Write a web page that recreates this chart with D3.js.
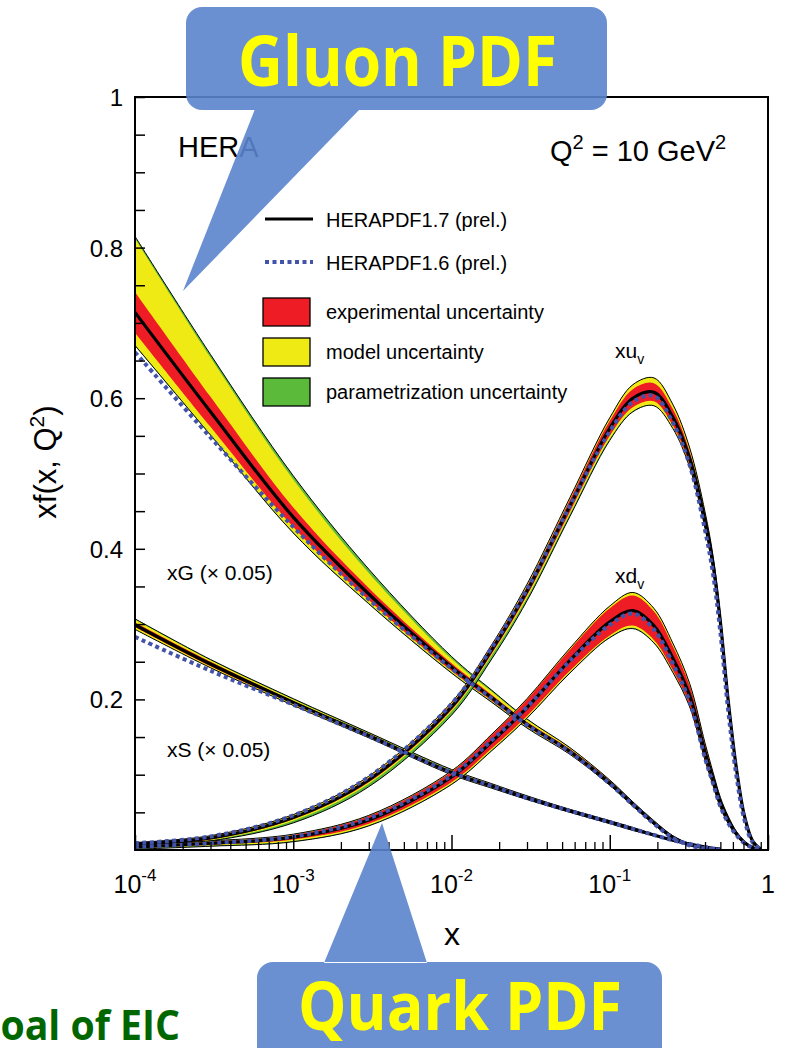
<!DOCTYPE html>
<html>
<head>
<meta charset="utf-8">
<script src="https://cdn.jsdelivr.net/npm/d3@7"></script>
<style>
  html, body { margin: 0; padding: 0; background: #fff; }
  svg { display: block; }
  text { font-family: "Liberation Sans", Arial, Helvetica, sans-serif; }
</style>
</head>
<body>
<svg id="chart" width="787" height="1048"></svg>
<script>
// Momentum fractions at which the parton distributions are tabulated
const xGrid = [0.0001, 0.0003, 0.001, 0.003, 0.01, 0.018, 0.03, 0.056, 0.1, 0.14, 0.19, 0.25, 0.32, 0.4, 0.45, 0.5, 0.56, 0.63, 0.71, 0.8, 0.9];

// xG (x 0.05): HERAPDF1.7 central, HERAPDF1.6, and uncertainty half-widths
const gCen   = [0.714, 0.582, 0.442, 0.340, 0.243, 0.202, 0.167, 0.131, 0.089, 0.061, 0.036, 0.017, 0.007, 0.003, 0.002, 0.001, null, null, null, null, null];
const gOld   = [0.661, 0.548, 0.429, 0.333, 0.241, 0.201, 0.166, 0.130, 0.088, 0.060, 0.035, 0.016, 0.006, 0.002, 0.001, 0.000, null, null, null, null, null];
const gExp   = [0.027, 0.020, 0.013, 0.008, 0.005, 0.004, 0.003, 0.003, 0.003, 0.002, 0.002, 0.001, 0.001, 0.001, 0.000, 0.000, null, null, null, null, null];
const gModUp = [0.098, 0.072, 0.050, 0.028, 0.011, 0.008, 0.006, 0.005, 0.004, 0.003, 0.003, 0.002, 0.001, 0.001, 0.001, 0.000, null, null, null, null, null];
const gModDn = [0.043, 0.030, 0.020, 0.012, 0.007, 0.005, 0.004, 0.004, 0.003, 0.003, 0.002, 0.002, 0.001, 0.001, 0.001, 0.000, null, null, null, null, null];
const gParUp = [0.101, 0.076, 0.055, 0.033, 0.014, 0.010, 0.007, 0.005, 0.004, 0.003, 0.003, 0.002, 0.001, 0.001, 0.001, 0.000, null, null, null, null, null];
const gParDn = [0.044, 0.031, 0.021, 0.013, 0.008, 0.006, 0.005, 0.004, 0.003, 0.003, 0.002, 0.002, 0.001, 0.001, 0.001, 0.000, null, null, null, null, null];

// xS (x 0.05)
const sCen   = [0.299, 0.247, 0.196, 0.152, 0.103, 0.085, 0.069, 0.052, 0.037, 0.028, 0.020, 0.013, 0.008, 0.004, 0.002, 0.001, null, null, null, null, null];
const sOld   = [0.283, 0.238, 0.193, 0.151, 0.103, 0.085, 0.069, 0.052, 0.037, 0.028, 0.020, 0.013, 0.008, 0.004, 0.002, 0.001, null, null, null, null, null];
const sExp   = [0.003, 0.003, 0.002, 0.002, 0.002, 0.002, 0.002, 0.001, 0.001, 0.001, 0.001, 0.001, 0.001, 0.001, 0.000, 0.000, null, null, null, null, null];
const sModUp = [0.007, 0.005, 0.004, 0.003, 0.003, 0.003, 0.002, 0.002, 0.002, 0.002, 0.001, 0.001, 0.001, 0.001, 0.000, 0.000, null, null, null, null, null];
const sModDn = [0.006, 0.005, 0.004, 0.003, 0.003, 0.003, 0.002, 0.002, 0.002, 0.002, 0.001, 0.001, 0.001, 0.001, 0.000, 0.000, null, null, null, null, null];
const sParUp = [0.008, 0.006, 0.005, 0.004, 0.004, 0.003, 0.003, 0.002, 0.002, 0.002, 0.001, 0.001, 0.001, 0.001, 0.000, 0.000, null, null, null, null, null];
const sParDn = [0.006, 0.005, 0.004, 0.003, 0.003, 0.003, 0.002, 0.002, 0.002, 0.002, 0.001, 0.001, 0.001, 0.001, 0.000, 0.000, null, null, null, null, null];

// xu_v
const uCen   = [0.008, 0.016, 0.043, 0.093, 0.190, 0.266, 0.344, 0.457, 0.560, 0.600, 0.608, 0.575, 0.520, 0.437, 0.379, 0.303, 0.199, 0.110, 0.045, 0.012, 0.001];
const uOld   = [0.009, 0.018, 0.046, 0.097, 0.194, 0.269, 0.346, 0.457, 0.556, 0.595, 0.603, 0.568, 0.511, 0.425, 0.366, 0.289, 0.186, 0.100, 0.040, 0.010, 0.001];
const uExp   = [0.001, 0.002, 0.002, 0.003, 0.004, 0.005, 0.006, 0.008, 0.010, 0.012, 0.012, 0.011, 0.009, 0.008, 0.007, 0.006, 0.004, 0.003, 0.002, 0.001, 0.000];
const uModUp = [0.002, 0.003, 0.004, 0.005, 0.006, 0.007, 0.009, 0.011, 0.014, 0.018, 0.019, 0.017, 0.014, 0.012, 0.011, 0.009, 0.007, 0.005, 0.003, 0.002, 0.000];
const uModDn = [0.002, 0.003, 0.004, 0.005, 0.006, 0.007, 0.009, 0.011, 0.014, 0.017, 0.018, 0.015, 0.012, 0.010, 0.009, 0.008, 0.006, 0.004, 0.003, 0.002, 0.000];
const uParUp = [0.002, 0.003, 0.004, 0.005, 0.006, 0.007, 0.009, 0.011, 0.014, 0.018, 0.019, 0.017, 0.014, 0.012, 0.011, 0.009, 0.007, 0.005, 0.003, 0.002, 0.000];
const uParDn = [0.003, 0.004, 0.007, 0.009, 0.011, 0.012, 0.013, 0.014, 0.016, 0.018, 0.018, 0.015, 0.012, 0.010, 0.009, 0.008, 0.006, 0.004, 0.003, 0.002, 0.000];

// xd_v
const dCen   = [0.004, 0.009, 0.017, 0.040, 0.097, 0.144, 0.189, 0.252, 0.303, 0.318, 0.298, 0.255, 0.205, 0.130, 0.094, 0.063, 0.040, 0.022, 0.010, 0.003, 0.000];
const dOld   = [0.004, 0.009, 0.018, 0.042, 0.099, 0.146, 0.190, 0.251, 0.299, 0.314, 0.293, 0.248, 0.197, 0.122, 0.088, 0.058, 0.036, 0.020, 0.009, 0.003, 0.000];
const dExp   = [0.001, 0.002, 0.003, 0.005, 0.007, 0.009, 0.011, 0.014, 0.018, 0.020, 0.019, 0.016, 0.013, 0.009, 0.007, 0.005, 0.004, 0.002, 0.001, 0.001, 0.000];
const dModUp = [0.002, 0.003, 0.004, 0.006, 0.008, 0.010, 0.012, 0.016, 0.021, 0.024, 0.023, 0.020, 0.016, 0.012, 0.009, 0.007, 0.005, 0.003, 0.002, 0.001, 0.000];
const dModDn = [0.002, 0.003, 0.005, 0.007, 0.009, 0.011, 0.013, 0.016, 0.020, 0.023, 0.022, 0.018, 0.014, 0.010, 0.008, 0.006, 0.004, 0.003, 0.002, 0.001, 0.000];
const dParUp = [0.002, 0.003, 0.004, 0.006, 0.008, 0.010, 0.012, 0.016, 0.021, 0.024, 0.023, 0.020, 0.016, 0.012, 0.009, 0.007, 0.005, 0.003, 0.002, 0.001, 0.000];
const dParDn = [0.003, 0.004, 0.006, 0.008, 0.010, 0.012, 0.014, 0.017, 0.021, 0.024, 0.023, 0.019, 0.015, 0.011, 0.009, 0.007, 0.005, 0.003, 0.002, 0.001, 0.000];

// Axis tick labels
const yTickLabels = [0.2, 0.4, 0.6, 0.8, 1];
const xTickExponents = [-4, -3, -2, -1];

const colors = { exp: "#ee1c25", mod: "#efea14", par: "#5cba3a", old: "#4352ab" };

const svg = d3.select("#chart");
const plot = { left: 135, right: 768, top: 97, bottom: 850 };

const x = d3.scaleLog().domain([1e-4, 1]).range([plot.left, plot.right]);
const y = d3.scaleLinear().domain([0, 1]).range([plot.bottom, plot.top]);

svg.append("defs").append("clipPath").attr("id", "plotArea")
  .append("rect").attr("x", plot.left).attr("y", plot.top)
  .attr("width", plot.right - plot.left).attr("height", plot.bottom - plot.top);

function series(cen, old, exp, modUp, modDn, parUp, parDn) {
  return xGrid.map((xv, i) => ({
    x: xv, c: cen[i], o: old[i], e: exp[i],
    mu: modUp[i], md: modDn[i], pu: parUp[i], pd: parDn[i]
  })).filter(d => d.c !== null);
}

const pdfs = [
  series(gCen, gOld, gExp, gModUp, gModDn, gParUp, gParDn),
  series(sCen, sOld, sExp, sModUp, sModDn, sParUp, sParDn),
  series(uCen, uOld, uExp, uModUp, uModDn, uParUp, uParDn),
  series(dCen, dOld, dExp, dModUp, dModDn, dParUp, dParDn)
];

const curve = d3.curveCatmullRom.alpha(0.5);
const band = (lo, hi) => d3.area().curve(curve).x(d => x(d.x)).y0(d => y(lo(d))).y1(d => y(hi(d)));
const line = acc => d3.line().curve(curve).x(d => x(d.x)).y(d => y(acc(d)));

const gBands = svg.append("g").attr("clip-path", "url(#plotArea)");
pdfs.forEach(p => {
  gBands.append("path").datum(p).attr("fill", colors.par)
    .attr("d", band(d => d.c - d.pd, d => d.c + d.pu));
  gBands.append("path").datum(p).attr("fill", colors.mod)
    .attr("d", band(d => d.c - d.md, d => d.c + d.mu));
  gBands.append("path").datum(p).attr("fill", colors.exp)
    .attr("d", band(d => d.c - d.e, d => d.c + d.e));
  // thin outline of the total band
  gBands.append("path").datum(p).attr("fill", "none").attr("stroke", "#000").attr("stroke-width", 1)
    .attr("d", line(d => d.c + d.pu));
  gBands.append("path").datum(p).attr("fill", "none").attr("stroke", "#000").attr("stroke-width", 1)
    .attr("d", line(d => d.c - d.pd));
});

const gLines = svg.append("g").attr("clip-path", "url(#plotArea)");
pdfs.forEach(p => {
  gLines.append("path").datum(p).attr("fill", "none").attr("stroke", "#000").attr("stroke-width", 3.2)
    .attr("d", line(d => d.c));
});
pdfs.forEach(p => {
  gLines.append("path").datum(p).attr("fill", "none").attr("stroke", colors.old)
    .attr("stroke-width", 4).attr("stroke-dasharray", "4,3.5")
    .attr("d", line(d => d.o));
});

// Frame
svg.append("rect").attr("x", plot.left).attr("y", plot.top)
  .attr("width", plot.right - plot.left).attr("height", plot.bottom - plot.top)
  .attr("fill", "none").attr("stroke", "#000").attr("stroke-width", 2);

// X axis ticks (inward)
const xMinor = [];
for (let e = -4; e < 0; e++) for (let m = 2; m <= 9; m++) xMinor.push(m * Math.pow(10, e));
const xMajor = xTickExponents.map(e => Math.pow(10, e)).concat([1]);
svg.append("g").attr("transform", `translate(0,${plot.bottom})`)
  .call(d3.axisBottom(x).tickValues(xMajor).tickSize(-15).tickFormat(""))
  .call(g => g.select(".domain").remove())
  .call(g => g.selectAll("line").attr("stroke-width", 1.5));
svg.append("g").attr("transform", `translate(0,${plot.bottom})`)
  .call(d3.axisBottom(x).tickValues(xMinor).tickSize(-8).tickFormat(""))
  .call(g => g.select(".domain").remove())
  .call(g => g.selectAll("line").attr("stroke-width", 1.3));

// Y axis ticks (inward)
const yTicks = d3.range(0.05, 1.0001, 0.05);
svg.append("g").attr("transform", `translate(${plot.left},0)`)
  .call(d3.axisLeft(y).tickValues(yTicks).tickSize(-10).tickFormat(""))
  .call(g => g.select(".domain").remove())
  .call(g => g.selectAll("line").attr("stroke-width", 1.5));

// Tick labels
const yl = svg.append("g").attr("font-size", 24).attr("text-anchor", "end");
yTickLabels.forEach(v => {
  yl.append("text").attr("x", plot.left - 12).attr("y", y(v) + 9).text(v === 1 ? "1" : d3.format(".1f")(v));
});
const xl = svg.append("g").attr("font-size", 25);
xTickExponents.forEach(e => {
  const t = xl.append("text").attr("x", x(Math.pow(10, e))).attr("y", plot.bottom + 43).attr("text-anchor", "middle");
  t.append("tspan").text("10");
  t.append("tspan").attr("font-size", 17).attr("dy", -12).text(String(e));
});
xl.append("text").attr("x", x(1)).attr("y", plot.bottom + 43).attr("text-anchor", "middle").text("1");

// Axis titles
svg.append("text").attr("x", 452).attr("y", 945).attr("font-size", 32).attr("text-anchor", "middle").text("x");
const yt = svg.append("text").attr("transform", "translate(56,462) rotate(-90)")
  .attr("font-size", 31).attr("text-anchor", "middle");
yt.append("tspan").text("xf(x, Q");
yt.append("tspan").attr("font-size", 21).attr("dy", -12).text("2");
yt.append("tspan").attr("dy", 12).text(")");

// Headline labels
svg.append("text").attr("x", 178).attr("y", 157).attr("font-size", 29).text("HERA");
const q = svg.append("text").attr("x", 550).attr("y", 161).attr("font-size", 29);
q.append("tspan").text("Q");
q.append("tspan").attr("font-size", 20).attr("dy", -12).text("2");
q.append("tspan").attr("dy", 12).text(" = 10 GeV");
q.append("tspan").attr("font-size", 20).attr("dy", -12).text("2");

// Legend
const lg = svg.append("g").attr("font-size", 20);
lg.append("line").attr("x1", 265).attr("x2", 313).attr("y1", 219).attr("y2", 219).attr("stroke", "#000").attr("stroke-width", 3.2);
lg.append("text").attr("x", 326).attr("y", 227).text("HERAPDF1.7 (prel.)");
lg.append("line").attr("x1", 265).attr("x2", 313).attr("y1", 262).attr("y2", 262).attr("stroke", colors.old)
  .attr("stroke-width", 4).attr("stroke-dasharray", "4,3.5");
lg.append("text").attr("x", 326).attr("y", 270).text("HERAPDF1.6 (prel.)");
[["experimental uncertainty", colors.exp, 298], ["model uncertainty", colors.mod, 338], ["parametrization uncertainty", colors.par, 378]]
  .forEach(([label, col, top]) => {
    lg.append("rect").attr("x", 263).attr("y", top).attr("width", 47).attr("height", 28)
      .attr("fill", col).attr("stroke", "#000").attr("stroke-width", 1.3);
    lg.append("text").attr("x", 326).attr("y", top + 21).text(label);
  });

// Curve labels
const cl = svg.append("g").attr("font-size", 21);
cl.append("text").attr("x", 167).attr("y", 580).text("xG (× 0.05)");
cl.append("text").attr("x", 167).attr("y", 757).text("xS (× 0.05)");
const u = cl.append("text").attr("x", 615).attr("y", 358);
u.append("tspan").text("xu");
u.append("tspan").attr("font-size", 14).attr("dy", 6).text("v");
const dv = cl.append("text").attr("x", 615).attr("y", 583);
dv.append("tspan").text("xd");
dv.append("tspan").attr("font-size", 14).attr("dy", 6).text("v");

// Callouts
const calloutFill = "#5a84cc";
function callout(box, r, tri) {
  const p = d3.path();
  p.moveTo(box.x0 + r, box.y0);
  p.lineTo(box.x1 - r, box.y0);
  p.arcTo(box.x1, box.y0, box.x1, box.y0 + r, r);
  p.lineTo(box.x1, box.y1 - r);
  p.arcTo(box.x1, box.y1, box.x1 - r, box.y1, r);
  p.lineTo(box.x0 + r, box.y1);
  p.arcTo(box.x0, box.y1, box.x0, box.y1 - r, r);
  p.lineTo(box.x0, box.y0 + r);
  p.arcTo(box.x0, box.y0, box.x0 + r, box.y0, r);
  p.closePath();
  const t = d3.path();
  t.moveTo(tri[0][0], tri[0][1]);
  t.lineTo(tri[1][0], tri[1][1]);
  t.lineTo(tri[2][0], tri[2][1]);
  t.closePath();
  svg.append("path").attr("d", p.toString() + t.toString()).attr("fill", calloutFill).attr("fill-opacity", 0.9);
}
callout({ x0: 186, y0: 7, x1: 607, y1: 110 }, 16, [[255, 109], [360, 109], [183, 291]]);
callout({ x0: 257, y0: 962, x1: 662, y1: 1070 }, 16, [[324, 963], [427, 963], [382, 823]]);

svg.append("text").attr("x", 238).attr("y", 86).attr("font-size", 70).attr("font-weight", "bold")
  .attr("fill", "#ffff00").style("font-family", "'Open Sans', 'Noto Sans', sans-serif")
  .attr("textLength", 319).attr("lengthAdjust", "spacingAndGlyphs").text("Gluon PDF");
svg.append("text").attr("x", 298).attr("y", 1030).attr("font-size", 66).attr("font-weight", "bold")
  .attr("fill", "#ffff00").style("font-family", "'Open Sans', 'Noto Sans', sans-serif")
  .attr("textLength", 324).attr("lengthAdjust", "spacingAndGlyphs").text("Quark PDF");

svg.append("text").attr("x", -28).attr("y", 1040).attr("font-size", 42).attr("font-weight", "bold")
  .attr("fill", "#006600").style("font-family", "'Open Sans', 'Noto Sans', sans-serif")
  .attr("textLength", 208).attr("lengthAdjust", "spacingAndGlyphs").text("Goal of EIC");
</script>
</body>
</html>
